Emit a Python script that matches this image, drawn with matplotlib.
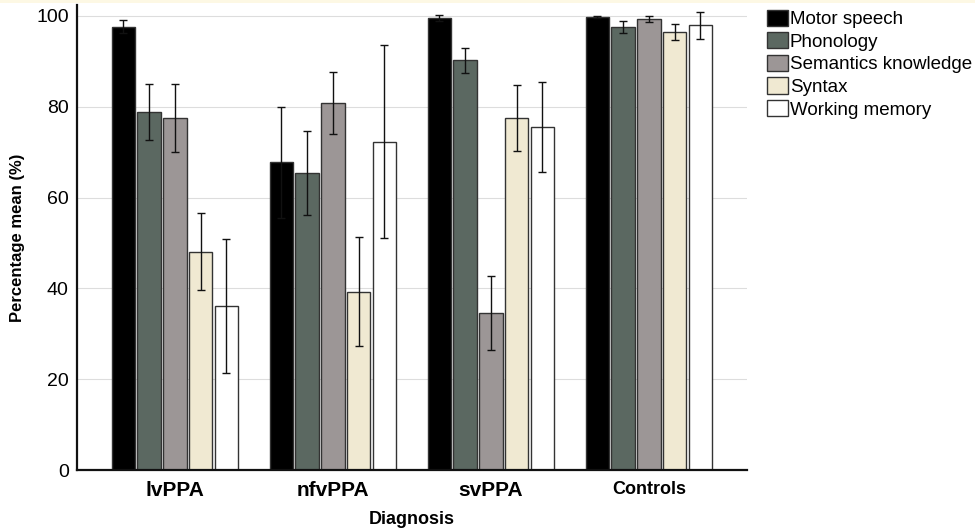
import numpy as np
import matplotlib
matplotlib.use('Agg')
import matplotlib.pyplot as plt
from matplotlib.patches import Rectangle

plt.rcParams['font.family'] = ['Liberation Sans', 'DejaVu Sans']

groups = ['lvPPA', 'nfvPPA', 'svPPA', 'Controls']
domains = ['Motor speech', 'Phonology', 'Semantics knowledge', 'Syntax', 'Working memory']
colors = ['#000000', '#5b6861', '#9c9696', '#f0e9d2', '#ffffff']

# mean values per domain (rows) for each diagnosis (columns)
means = [
    [97.6, 67.8, 99.5, 99.8],   # motor speech
    [78.9, 65.4, 90.2, 97.6],   # phonology
    [77.6, 80.8, 34.6, 99.3],   # semantics
    [48.1, 39.3, 77.5, 96.5],   # syntax
    [36.1, 72.3, 75.6, 97.9],   # working memory
]
# error bar half-lengths
errs = [
    [1.4, 12.2, 0.6, 0.2],
    [6.2, 9.3, 2.7, 1.3],
    [7.5, 6.9, 8.1, 0.6],
    [8.4, 12.0, 7.2, 1.8],
    [14.8, 21.3, 9.9, 3.0],
]

fig = plt.figure(figsize=(9.75, 5.28), dpi=100)
# faint yellow strip at very top like the source image
fig.patches.append(Rectangle((0, 0.994), 1, 0.006, transform=fig.transFigure,
                             facecolor='#fdf8e4', edgecolor='none'))
ax = fig.add_axes([0.079, 0.1098, 0.687, 0.8807])

x = np.arange(len(groups))
step = 0.163
width = 0.149
for i, d in enumerate(domains):
    pos = x + (i - 2) * step
    ax.bar(pos, means[i], width=width, color=colors[i], edgecolor='#333333',
           linewidth=1.0, label=d, zorder=2)
    ax.errorbar(pos, means[i], yerr=errs[i], fmt='none', ecolor='#111111',
                elinewidth=1.0, capsize=3, capthick=1.0, zorder=3)

ax.set_xlim(-0.62, 3.62)
ax.set_ylim(0, 102.4)
ax.set_yticks([0, 20, 40, 60, 80, 100])
ax.set_xticks(x)
ax.set_xticklabels(groups, fontsize=15, fontweight='bold')
# the last label is a bit smaller in the original
ax.get_xticklabels()[-1].set_fontsize(13)
ax.tick_params(axis='y', labelsize=14, length=0, pad=6)
ax.tick_params(axis='x', length=0, pad=8)
ax.grid(axis='y', color='#dddddd', linewidth=0.8, zorder=0)
ax.set_axisbelow(True)
for s in ['top', 'right']:
    ax.spines[s].set_visible(False)
for s in ['left', 'bottom']:
    ax.spines[s].set_linewidth(1.6)
    ax.spines[s].set_color('#111111')

ax.set_ylabel('Percentage mean (%)', fontsize=12, fontweight='bold', labelpad=8)
ax.set_xlabel('Diagnosis', fontsize=13, fontweight='bold', labelpad=8)

ax.legend(loc='upper left', bbox_to_anchor=(0.787, 0.982), bbox_transform=fig.transFigure,
          frameon=False, fontsize=13.5, handlelength=1.1, handleheight=0.95,
          handletextpad=0.1, labelspacing=0.22, borderaxespad=0, borderpad=0)

fig.savefig('out.png', dpi=100)
